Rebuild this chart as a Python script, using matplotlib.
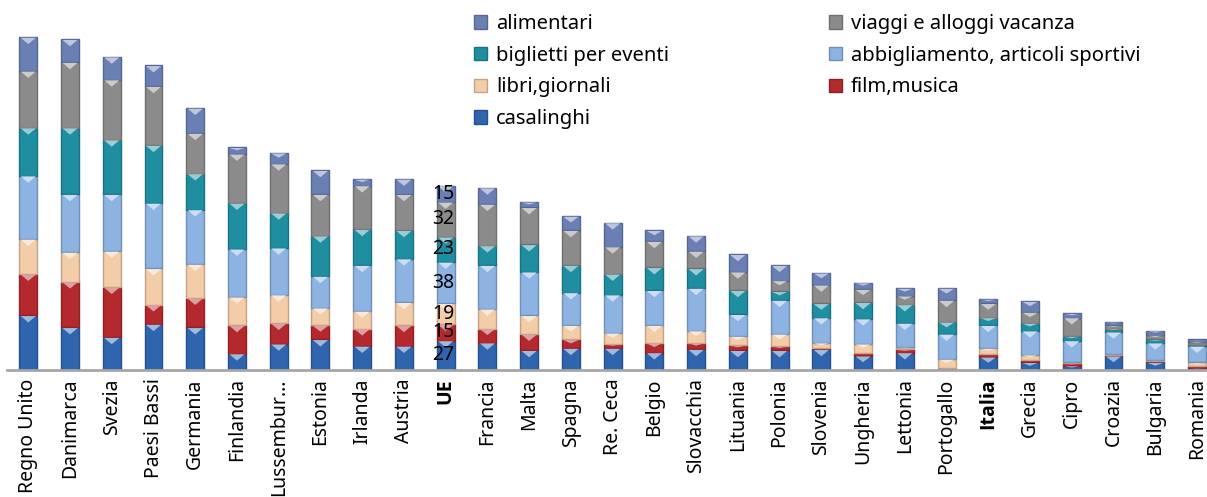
import matplotlib
matplotlib.use("Agg")
import matplotlib.pyplot as plt
from matplotlib.patches import Patch
import matplotlib.colors as mcolors
import numpy as np

plt.rcParams['font.family'] = ['Noto Sans', 'DejaVu Sans']

countries = ["Regno Unito", "Danimarca", "Svezia", "Paesi Bassi", "Germania", "Finlandia",
             "Lussembur...", "Estonia", "Irlanda", "Austria", "UE", "Francia", "Malta", "Spagna",
             "Re. Ceca", "Belgio", "Slovacchia", "Lituania", "Polonia", "Slovenia", "Ungheria",
             "Lettonia", "Portogallo", "Italia", "Grecia", "Cipro", "Croazia", "Bulgaria", "Romania"]

casalinghi    = [50, 39, 30, 42, 39, 15, 24, 28, 22, 22, 27, 25, 18, 20, 20, 16, 19, 18, 18, 19, 13, 16, 1, 12, 7, 4, 13, 7, 2]
film_musica   = [38, 42, 46, 18, 27, 26, 19, 13, 16, 19, 15, 13, 15, 8, 4, 9, 6, 5, 4, 1, 3, 3, 1, 3, 2, 2, 1, 1, 2]
libri         = [32, 27, 33, 33, 31, 26, 26, 16, 16, 21, 19, 18, 17, 13, 10, 16, 11, 8, 11, 5, 8, 2, 8, 5, 5, 1, 1, 1, 3]
abbigliamento = [58, 53, 52, 60, 50, 44, 43, 29, 42, 40, 38, 40, 40, 30, 35, 32, 39, 20, 31, 23, 23, 22, 23, 21, 22, 20, 20, 16, 15]
biglietti     = [44, 61, 50, 53, 33, 42, 32, 37, 33, 26, 23, 18, 25, 25, 19, 21, 18, 22, 8, 13, 15, 17, 11, 7, 7, 4, 3, 3, 1]
viaggi        = [52, 60, 55, 54, 37, 45, 45, 38, 40, 33, 32, 38, 34, 32, 25, 24, 16, 17, 10, 17, 12, 8, 20, 13, 10, 17, 3, 4, 3]
alimentari    = [31, 21, 21, 19, 23, 6, 10, 22, 6, 14, 15, 15, 5, 13, 22, 10, 14, 16, 14, 11, 6, 7, 11, 4, 10, 4, 3, 4, 2]

series_names = ["casalinghi", "film,musica", "libri,giornali", "abbigliamento, articoli sportivi",
                "biglietti per eventi", "viaggi e alloggi vacanza", "alimentari"]
series_vals = [casalinghi, film_musica, libri, abbigliamento, biglietti, viaggi, alimentari]
colors = ["#2f64ae", "#b3292e", "#f3cca8", "#8db3e2", "#1f8ea1", "#8b8b8b", "#6a80b5"]
bold_labels = ["UE", "Italia"]
label_country = "UE"

W, H = 1207, 497
fig = plt.figure(figsize=(W / 100, H / 100), dpi=100)
ax_left, ax_right, ax_top, ax_base = 7, 1207, 0, 370
ax = fig.add_axes([ax_left / W, 1 - ax_base / H, (ax_right - ax_left) / W, (ax_base - ax_top) / H])

x = np.arange(len(countries))
bw = 0.43
ax.set_xlim(-0.51, 28.24)
ax.set_ylim(0, 339)

px_per_unit = (ax_base - ax_top) / 339.0

def shade(c, f):
    r, g, b = mcolors.to_rgb(c)
    return (r * f, g * f, b * f)

def tint(c, f):
    r, g, b = mcolors.to_rgb(c)
    return (r + (1 - r) * f, g + (1 - g) * f, b + (1 - b) * f)

bottom = np.zeros(len(countries))
for vals, col, name in zip(series_vals, colors, series_names):
    v = np.array(vals, dtype=float)
    ax.bar(x, v, bottom=bottom, width=bw, color=col, edgecolor=shade(col, 0.8),
           linewidth=1.0, zorder=2)
    # bevel highlight triangle at the top of every segment
    for xi, b, h in zip(x, bottom, v):
        if h <= 0:
            continue
        top = b + h
        depth = min(7.0 / px_per_unit, h * 0.45)
        half = bw * 0.42
        ax.fill([xi - half, xi + half, xi], [top - 0.6, top - 0.6, top - depth],
                color=tint(col, 0.55), zorder=3, linewidth=0)
    bottom += v

# value labels for UE
i_ue = countries.index(label_country)
cum = 0
for vals in series_vals:
    val = vals[i_ue]
    ax.text(x[i_ue] - 0.05, cum + val / 2, f"{val}", ha='center', va='center',
            fontsize=14, color='black', zorder=5)
    cum += val

for s in ['top', 'right', 'left']:
    ax.spines[s].set_visible(False)
ax.spines['bottom'].set_color('#a6a6a6')
ax.spines['bottom'].set_linewidth(2)
ax.set_yticks([])
ax.set_xticks(x)
ax.set_xticklabels(countries, rotation=90, fontsize=14)
ax.tick_params(axis='x', length=0, pad=6)
for lbl in ax.get_xticklabels():
    if lbl.get_text() in bold_labels:
        lbl.set_fontfamily(['Open Sans', 'DejaVu Sans'])
        lbl.set_fontweight('bold')

handles = {n: Patch(facecolor=c, edgecolor=shade(c, 0.8)) for n, c in zip(series_names, colors)}
col1 = ["alimentari", "biglietti per eventi", "libri,giornali", "casalinghi"]
col2 = ["viaggi e alloggi vacanza", "abbigliamento, articoli sportivi", "film,musica"]
common = dict(frameon=False, fontsize=14.5, handlelength=0.65, handleheight=0.65,
              handletextpad=0.45, labelspacing=0.58, borderpad=0, borderaxespad=0,
              loc='upper left')
leg1 = fig.legend([handles[n] for n in col1], col1, bbox_to_anchor=(474 / W, 1 - 14 / H), **common)
leg2 = fig.legend([handles[n] for n in col2], col2, bbox_to_anchor=(829 / W, 1 - 14 / H), **common)

fig.savefig("out.png", dpi=100)
